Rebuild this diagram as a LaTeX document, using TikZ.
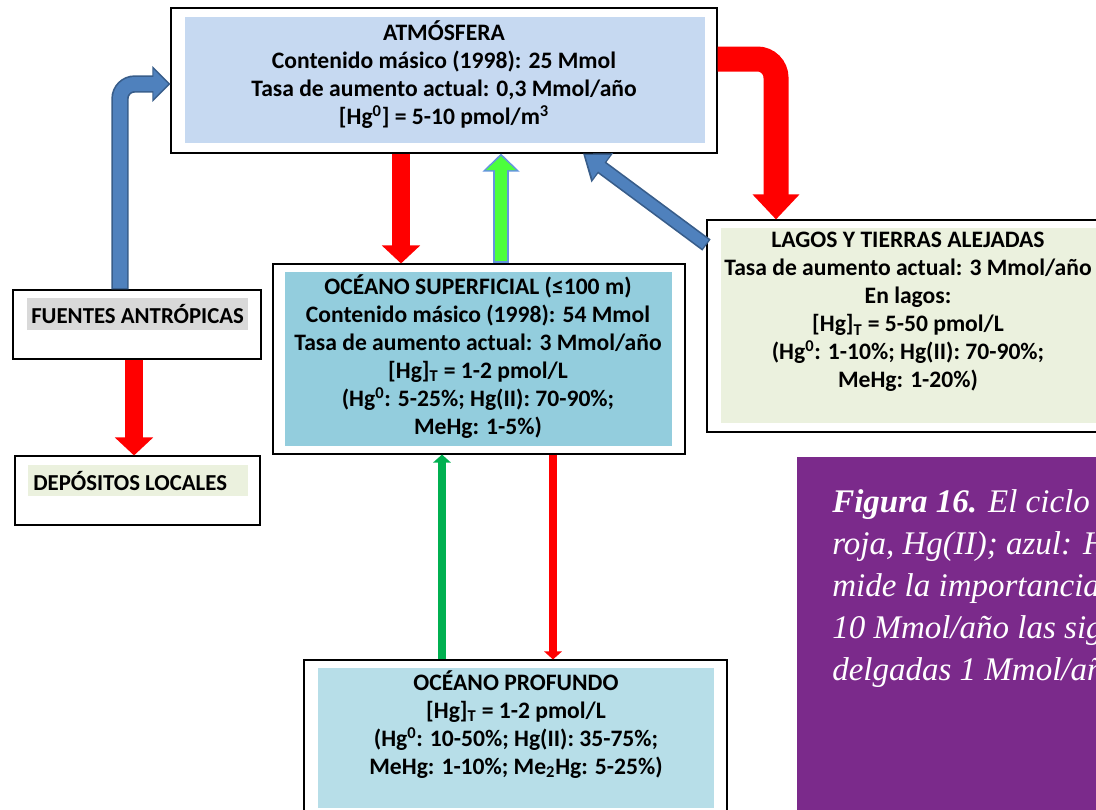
\documentclass[tikz,border=0pt]{standalone}
\usepackage{fontspec}
\setmainfont{Carlito}
\newfontfamily\capfont{Liberation Serif}
\usetikzlibrary{arrows.meta}
\definecolor{atmblue}{RGB}{198,217,241}
\definecolor{supblue}{RGB}{147,205,221}
\definecolor{profblue}{RGB}{183,222,232}
\definecolor{lagosgreen}{RGB}{235,241,222}
\definecolor{hlgrey}{RGB}{217,217,217}
\definecolor{flowred}{RGB}{255,0,0}
\definecolor{flowgreen}{RGB}{76,255,60}
\definecolor{thingreen}{RGB}{0,176,80}
\definecolor{greenedge}{RGB}{100,149,222}
\definecolor{bluefill}{RGB}{79,129,189}
\definecolor{blueedge}{RGB}{56,93,138}
\definecolor{capurple}{RGB}{123,42,139}
\begin{document}
\begin{tikzpicture}[x=0.75pt,y=-0.75pt]
  \tikzstyle{outerbox}=[draw=black,line width=0.8pt,fill=white,inner sep=0pt]
  \tikzstyle{fillbox}=[inner sep=0pt]
  \tikzstyle{boxtext}=[font=\bfseries\fontsize{17.7}{21}\selectfont,align=center,inner sep=0pt]
  \tikzstyle{tagtext}=[font=\bfseries\fontsize{17.1}{21}\selectfont,anchor=west,inner sep=0pt]
  \tikzstyle{captext}=[font=\capfont\itshape\fontsize{24.75}{30}\selectfont,text=white,anchor=base west,inner sep=0pt]
  \tikzstyle{redflow}=[draw=flowred,line width=13.5pt,-{Triangle[length=13.5pt,width=28pt]}]
  \tikzstyle{thinflow}=[line width=6pt,-{Triangle[length=6pt,width=13pt]}]

  \useasboundingbox (0,0) rectangle (1096,810);
  \clip (0,0) rectangle (1096,810);

  \node[outerbox,minimum width=409.5pt,minimum height=108.75pt] (atm) at (444,80.5) {};
  \node[fillbox,fill=atmblue,minimum width=390pt,minimum height=94.5pt] at (445,80) {};
  \node[boxtext] at (444,75) {ATMÓSFERA\\Contenido másico (1998): 25 Mmol\\Tasa de aumento actual: 0,3 Mmol/año\\{[}Hg\textsuperscript{0}{]} = 5-10 pmol/m\textsuperscript{3}};

  \node[outerbox,minimum width=309pt,minimum height=142.5pt] (sup) at (479,359) {};
  \node[fillbox,fill=supblue,minimum width=290.25pt,minimum height=130.5pt] at (478.5,359) {};
  \node[boxtext] at (478,356.5) {OCÉANO SUPERFICIAL (≤100 m)\\Contenido másico (1998): 54 Mmol\\Tasa de aumento actual: 3 Mmol/año\\{[}Hg{]}\textsubscript{T} = 1-2 pmol/L\\(Hg\textsuperscript{0}: 5-25\%; Hg(II): 70-90\%;\\MeHg: 1-5\%)};

  \node[outerbox,minimum width=317.25pt,minimum height=120pt] (prof) at (515.5,740) {};
  \node[fillbox,fill=profblue,minimum width=297pt,minimum height=105pt] at (516,738) {};
  \node[boxtext] at (516,724.5) {OCÉANO PROFUNDO\\{[}Hg{]}\textsubscript{T} = 1-2 pmol/L\\(Hg\textsuperscript{0}: 10-50\%; Hg(II): 35-75\%;\\MeHg: 1-10\%; Me\textsubscript{2}Hg: 5-25\%)};

  \node[outerbox,minimum width=306pt,minimum height=159pt] (lagos) at (911,326) {};
  \node[fillbox,fill=lagosgreen,minimum width=288pt,minimum height=146.25pt] at (913,325.5) {};
  \node[boxtext] at (908,312) {LAGOS Y TIERRAS ALEJADAS\\Tasa de aumento actual: 3 Mmol/año\\En lagos:\\{[}Hg{]}\textsubscript{T} = 5-50 pmol/L\\(Hg\textsuperscript{0}: 1-10\%; Hg(II): 70-90\%;\\MeHg: 1-20\%)};

  \node[outerbox,minimum width=186pt,minimum height=51.75pt] (fuentes) at (137,324.5) {};
  \node[fillbox,fill=hlgrey,minimum width=165.75pt,minimum height=24pt] at (137.5,314) {};
  \node[tagtext] at (31,314) {FUENTES ANTRÓPICAS};

  \node[outerbox,minimum width=183.75pt,minimum height=51.75pt] (depositos) at (137.5,490.5) {};
  \node[fillbox,fill=lagosgreen,minimum width=165pt,minimum height=23.25pt] at (138,480.5) {};
  \node[tagtext] at (33,480.5) {DEPÓSITOS LOCALES};

  \node[fillbox,fill=capurple,minimum width=234.75pt,minimum height=272.25pt] (caption) at (953.5,638.5) {};
  \node[captext] at (832,512) {\textbf{Figura 16.} El ciclo};
  \node[captext] at (832,554) {roja, Hg(II); azul: H};
  \node[captext] at (832,596) {mide la importancia};
  \node[captext] at (832,638) {10 Mmol/año las sig};
  \node[captext] at (832,680) {delgadas 1 Mmol/año};

  \draw[redflow] (atm.south -| 401,0) -- (sup.north -| 401,0);
  \draw[redflow] (fuentes.south -| 134,0) -- (depositos.north -| 134,0);
  \draw[redflow,line width=18.75pt,rounded corners=14pt,-{Triangle[length=18.75pt,width=34pt]}]
    (atm.east |- 0,59) -| (lagos.north -| 776,0);

  \draw[draw=greenedge,line width=12pt,-{Triangle[length=13.5pt,width=27pt]}]
    (sup.north -| 501,0) -- (atm.south -| 501,0);
  \draw[draw=flowgreen,line width=9pt,shorten >=2pt,shorten <=1.5pt,-{Triangle[length=10.5pt,width=22pt]}]
    (sup.north -| 501,0) -- (atm.south -| 501,0);

  \draw[draw=blueedge,line width=13pt,rounded corners=11pt,-{Triangle[length=13.5pt,width=26pt]}]
    (fuentes.north -| 120,0) |- (atm.west |- 0,84);
  \draw[draw=bluefill,line width=10.5pt,rounded corners=11pt,shorten >=1.8pt,shorten <=1pt,-{Triangle[length=11pt,width=21.5pt]}]
    (fuentes.north -| 120,0) |- (atm.west |- 0,84);

  \draw[draw=blueedge,line width=10.5pt,-{Triangle[length=18pt,width=26pt]}]
    (lagos.west |- 0,245) -- (atm.south -| 583,0);
  \draw[draw=bluefill,line width=8pt,shorten >=2pt,shorten <=1pt,-{Triangle[length=15pt,width=21pt]}]
    (lagos.west |- 0,245) -- (atm.south -| 583,0);

  \draw[thinflow,draw=thingreen] (prof.north -| 442,0) -- (sup.south -| 442,0);
  \draw[thinflow,draw=flowred] (sup.south -| 553,0) -- (prof.north -| 553,0);
\end{tikzpicture}
\end{document}
